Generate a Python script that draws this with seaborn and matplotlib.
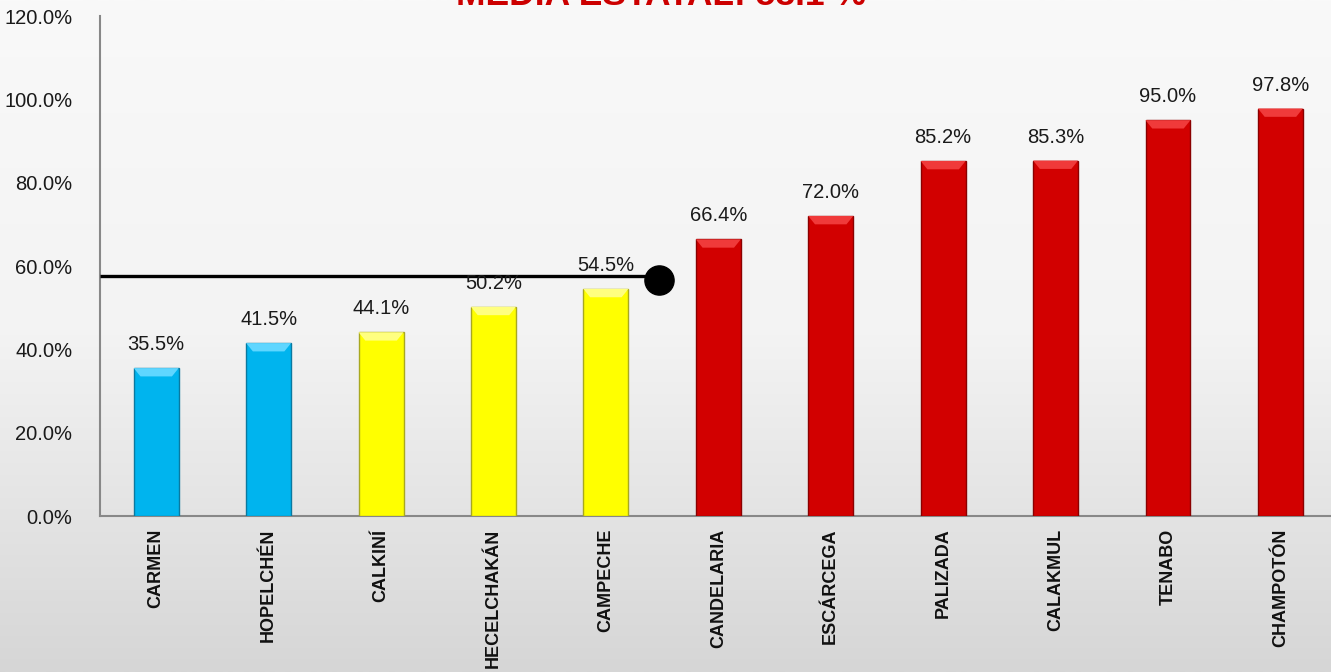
import numpy as np
import matplotlib
matplotlib.use("Agg")
import matplotlib.pyplot as plt
import seaborn as sns
import pandas as pd
from matplotlib.colors import LinearSegmentedColormap
from matplotlib.patches import Polygon

categories = ["CARMEN", "HOPELCHÉN", "CALKINÍ", "HECELCHAKÁN", "CAMPECHE",
              "CANDELARIA", "ESCÁRCEGA", "PALIZADA", "CALAKMUL", "TENABO", "CHAMPOTÓN"]
values = [35.5, 41.5, 44.1, 50.2, 54.5, 66.4, 72.0, 85.2, 85.3, 95.0, 97.8]
groups = ["blue", "blue", "yellow", "yellow", "yellow",
          "red", "red", "red", "red", "red", "red"]
media_estatal = 57.7
title_text = "MEDIA ESTATAL: 58.1 %"
yticks = [0, 20, 40, 60, 80, 100, 120]

group_colors = {"blue": "#00b4ee", "yellow": "#ffff00", "red": "#d20000"}
top_colors = {"blue": "#5fd6ff", "yellow": "#ffff80", "red": "#f03a3a"}
edge_colors = {"blue": "#0a79a0", "yellow": "#a8a820", "red": "#8a0000"}

sns.set_theme(style="white")
plt.rcParams['font.family'] = ['Liberation Sans', 'DejaVu Sans']

W, H = 1331, 672
fig = plt.figure(figsize=(W / 100, H / 100), dpi=100)

# background gradient
bg = fig.add_axes([0, 0, 1, 1], zorder=-10)
grad = np.linspace(0, 1, 256).reshape(-1, 1)
cmap = LinearSegmentedColormap.from_list("bg", ["#f9f9f9", "#f3f3f3", "#d6d6d6"])
bg.imshow(grad, aspect="auto", cmap=cmap, extent=[0, 1, 0, 1])
bg.axis("off")

left, right = 100 / W, 1.0
bottom, top = 1 - 516 / H, 1 - 16 / H
ax = fig.add_axes([left, bottom, right - left, top - bottom])
ax.set_facecolor("none")

df = pd.DataFrame({"cat": categories, "val": values, "grp": groups})
palette = [group_colors[g] for g in groups]
sns.barplot(data=df, x="cat", y="val", hue="cat", palette=palette, legend=False,
            width=0.4, saturation=1, ax=ax, zorder=3)

ax.set_xlim(-0.5, 10.45)
ax.set_ylim(0, 120)

# bevel highlight at the top of each bar (derived from the bar patches)
bev_y = 2.0   # data units of the bevel
for patch, g in zip(list(ax.patches), groups):
    patch.set_edgecolor(edge_colors[g])
    patch.set_linewidth(1.0)
    x0 = patch.get_x()
    w = patch.get_width()
    h = patch.get_height()
    inset = w * 0.15
    poly = Polygon([[x0, h], [x0 + w, h], [x0 + w - inset, h - bev_y], [x0 + inset, h - bev_y]],
                   closed=True, facecolor=top_colors[g], edgecolor="none", zorder=3.5)
    ax.add_patch(poly)

for i, v in enumerate(values):
    ax.annotate(f"{v:.1f}%", (i, v), xytext=(0, 10), textcoords="offset points",
                ha="center", va="bottom", fontsize=14.5, color="#1a1a1a", zorder=5)

# mean line with end marker
ax.plot([-0.5, 4.47], [media_estatal, media_estatal], color="black", lw=2.4, zorder=4,
        solid_capstyle="butt")
ax.plot([4.47], [media_estatal - 1.0], marker="o", markersize=21, color="black", zorder=6)

ax.set_yticks(yticks)
ax.set_yticklabels([f"{t:.1f}%" for t in yticks], fontsize=14.5, color="#1a1a1a")
ax.tick_params(axis="y", length=0, pad=20)
ax.tick_params(axis="x", length=0, pad=9)
ax.set_xticks(range(len(categories)))
ax.set_xticklabels(categories, rotation=90, fontsize=13, fontweight="bold",
                   color="#111111", va="top")
ax.set_xlabel("")
ax.set_ylabel("")
for s in ["top", "right"]:
    ax.spines[s].set_visible(False)
for s in ["left", "bottom"]:
    ax.spines[s].set_color("#888888")
    ax.spines[s].set_linewidth(1.5)
ax.grid(False)

fig.text(661 / W, 1 - 5 / H, title_text, ha="center", va="baseline",
         fontsize=25.5, fontweight="bold", color="#cc0000")

fig.savefig("out.png", dpi=100)
